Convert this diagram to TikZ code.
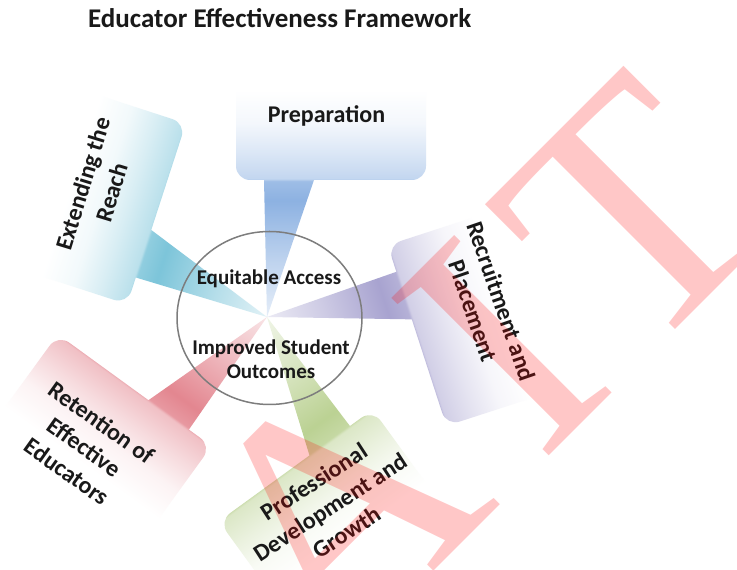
\documentclass[tikz,border=0pt]{standalone}
\usepackage{fontspec}
\setmainfont{Carlito}
\newfontfamily\wmfont{Liberation Serif}
\usetikzlibrary{shapes.geometric}
\definecolor{cblue}{RGB}{112,158,218}
\definecolor{cteal}{RGB}{92,182,208}
\definecolor{cpurp}{RGB}{146,140,196}
\definecolor{cgreen}{RGB}{170,198,120}
\definecolor{cred}{RGB}{220,104,116}
\definecolor{rimgray}{RGB}{125,125,125}
\newcommand\declshade[2]{%
  \pgfdeclareverticalshading{#1}{100bp}{color(0bp)=(#2!18); color(25bp)=(#2!18);
    color(35bp)=(#2!45); color(46bp)=(#2!80); color(49.5bp)=(#2!68);
    color(50bp)=(#2!42); color(55bp)=(#2!24); color(60bp)=(#2!8);
    color(66bp)=(white); color(100bp)=(white)}}
\declshade{sblue}{cblue}
\declshade{steal}{cteal}
\declshade{spurp}{cpurp}
\declshade{sgreen}{cgreen}
\declshade{sred}{cred}
\newcommand\mycallout[2]{%
  \begin{scope}[transform canvas={shift={(267,253)},rotate=#1}]
    \shade[shading=#2] (-17,137) -- (-3,137) -- (0,0) -- (47,137) -- (145,137)
      arc[start angle=-90,end angle=0,radius=14] -- (159,263)
      arc[start angle=0,end angle=90,radius=14] -- (-17,277)
      arc[start angle=90,end angle=180,radius=14] -- (-31,151)
      arc[start angle=180,end angle=270,radius=14] -- cycle;
  \end{scope}}
\tikzset{
  lbl/.style={font=\fontsize{24}{30}\selectfont\bfseries, align=center, inner sep=0pt, text=black!90},
  hubtxt/.style={font=\fontsize{21}{24}\selectfont\bfseries, align=center, inner sep=0pt, text=black!90},
}
\begin{document}
\begin{tikzpicture}[x=1pt,y=1pt]
\useasboundingbox (0,0) rectangle (737,570);
\fill[white] (0,0) rectangle (737,570);
\clip (0,0) rectangle (737,570);
% callouts
\mycallout{0}{sblue}
\mycallout{-72}{spurp}
\mycallout{-144}{sgreen}
\mycallout{-216}{sred}
\mycallout{-288}{steal}
% hub
\coordinate (tip) at (267,253);
\node[draw=rimgray, line width=1.5pt, ellipse, minimum width=185, minimum height=173, inner sep=0] (hub) at (269.5,252) {};
% title
\node[anchor=base west, inner sep=0, font=\fontsize{27}{30}\selectfont\bfseries, text=black!90] (title) at (88,542.5) {Educator Effectiveness Framework};
% hub texts
\node[hubtxt, anchor=base] (eq) at (269,285.7) {Equitable Access};
\node[hubtxt] (imp) at (271,211) {Improved Student\\Outcomes};
% callout texts
\node[lbl, anchor=base] (prep) at (326.5,447.3) {Preparation};
\node[lbl, rotate=73] (ext) at (97,382) {Extending the\\Reach};
\node[lbl, rotate=-71] (rec) at (487,264) {Recruitment and\\Placement};
\node[lbl, rotate=33] (pdg) at (330,63) {Professional\\Development and\\Growth};
\node[lbl, rotate=-35.5] (ret) at (84,123) {Retention of\\Effective\\Educators};
% watermark
\node[anchor=base west, inner sep=0, rotate=45, text=red, text opacity=0.22,
  font=\wmfont\fontsize{340}{340}\selectfont] (wm) at (328.7,-106.3) {A\kern54pt I\kern26pt T};
\end{tikzpicture}
\end{document}
